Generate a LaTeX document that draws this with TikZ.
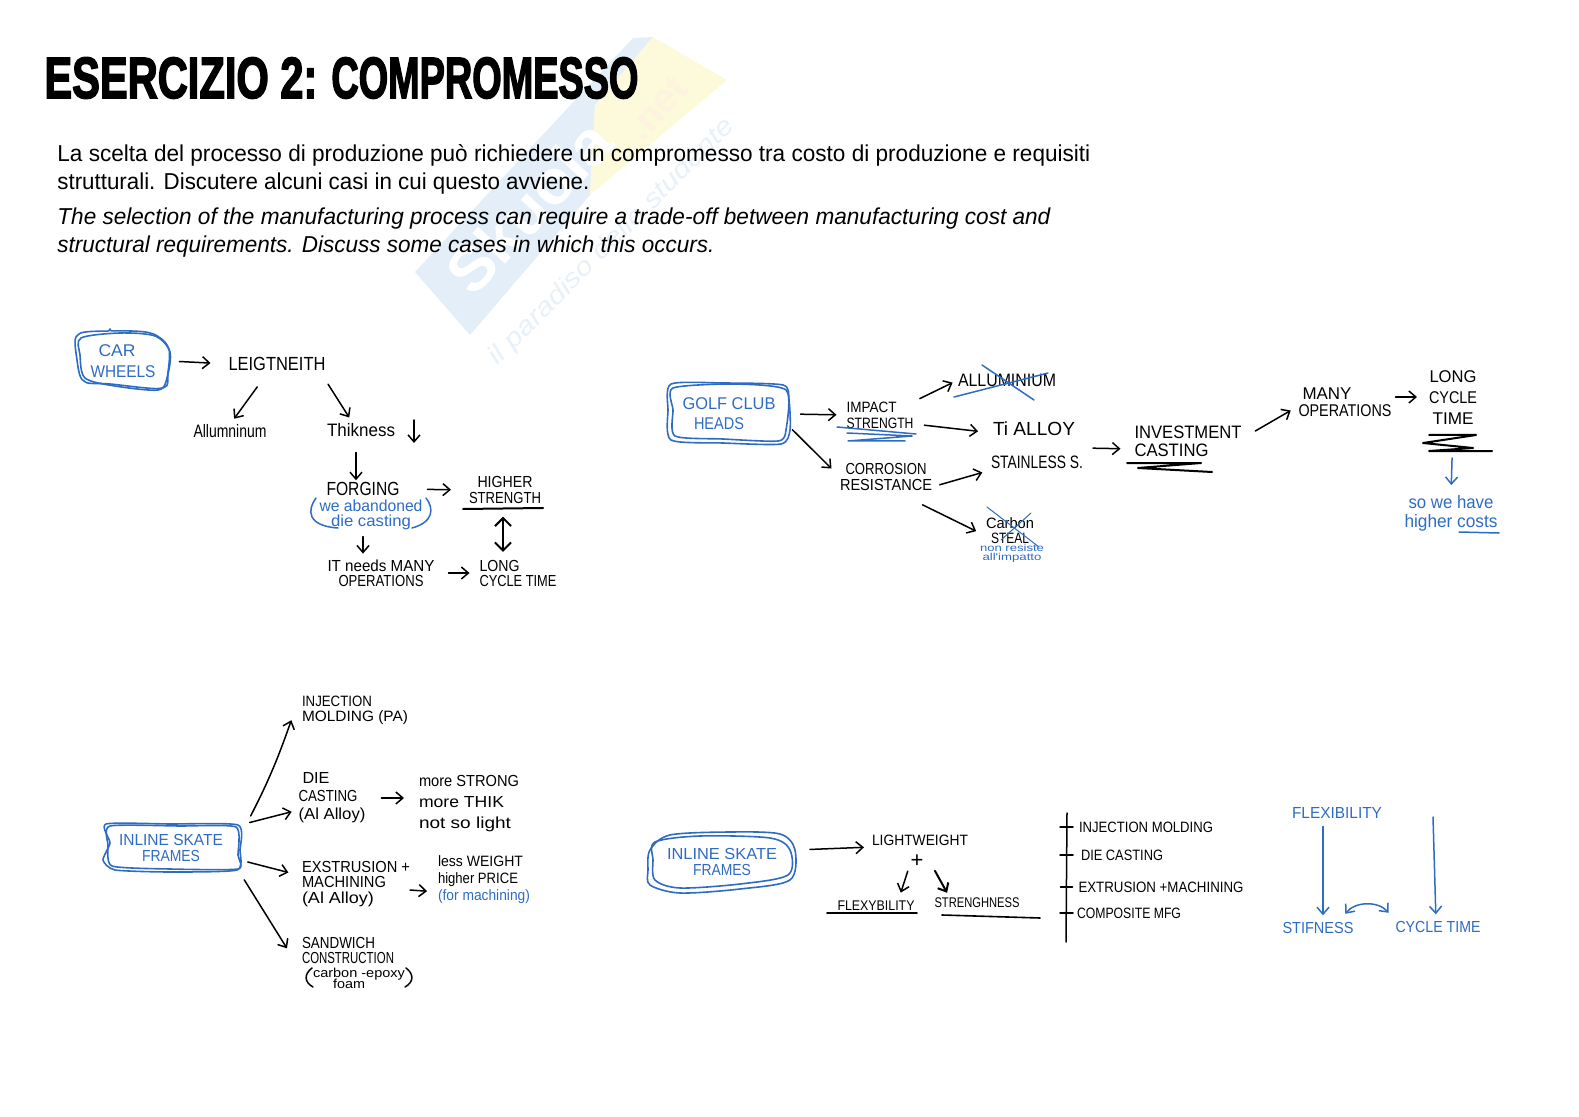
\documentclass[tikz,border=0pt]{standalone}
\usepackage{fontspec}
\usepackage{graphicx}
\usetikzlibrary{arrows.meta}
\setmainfont{Liberation Sans}
\newfontfamily\titlef[BoldFeatures={FakeBold=3}]{Liberation Sans}
\newfontfamily\handf{Liberation Sans}
\newlength\wu \setlength\wu{0.5pt}
\newcommand\wl[2]{\resizebox{#1\wu}{\height}{#2}}
\lineskiplimit=-100pt
\definecolor{hblue}{HTML}{2E6CC4}
\definecolor{wmblue}{HTML}{E3EEF8}
\definecolor{wmyel}{HTML}{FCFADB}
\definecolor{wmtxt}{HTML}{E8F0F8}
\tikzset{
  hand/.style 2 args={font=\handf\fontsize{#1}{#2}\selectfont,align=center,inner sep=0pt,outer sep=0pt,text=black},
  hb/.style 2 args={hand={#1}{#2},text=hblue},
  skbox/.style={inner sep=0pt,outer sep=0pt,align=center,text=hblue,font=\handf\fontsize{8.5}{9}\selectfont},
  arr/.style={draw=black,line width=.75pt,line cap=round,-{Straight Barb[length=3.5pt,width=6pt]}},
  arrb/.style={arr,draw=hblue},
  ink/.style={draw=black,line width=.75pt,line cap=round,line join=round},
  inkb/.style={draw=hblue,line width=.75pt,line cap=round,line join=round},
  skline/.style={draw=hblue,line width=.8pt,line join=round},
}
\begin{document}
\begin{tikzpicture}[x=0.5pt,y=-0.5pt]
\useasboundingbox (0,0) rectangle (1579,1117);
% watermark
\fill[wmblue] (415,272) -- (633,38) -- (653,37) -- (595,105) -- (590,195) -- (470,335) -- cycle;
\fill[wmyel] (653,37) -- (727,80) -- (590,195) -- (595,105) -- cycle;
\node[rotate=47,text=white,font=\fontsize{31}{31}\selectfont\bfseries] (wma) at (529,207) {\wl{210}{Skuola}};
\node[rotate=47,text=wmyel!75!orange!35,font=\fontsize{20}{20}\selectfont\bfseries] (wmb) at (657,108) {\wl{70}{.net}};
\node[rotate=45,text=wmtxt,font=\fontsize{13}{13}\selectfont\itshape] (wmc) at (612,242) {\wl{337}{il paradiso dello studente}};
% title and text
\node[anchor=west,inner sep=0pt,font=\titlef\bfseries\fontsize{29}{29}\selectfont] (title) at (44,78) {\wl{273}{ESERCIZIO 2:}\hspace{7pt}\wl{307}{COMPROMESSO}};
\node[anchor=west,inner sep=0pt,align=left,font=\fontsize{11.5}{14}\selectfont] (ita) at (57,169) {\wl{1033}{La scelta del processo di produzione può richiedere un compromesso tra costo di produzione e requisiti}\\\wl{532}{strutturali. Discutere alcuni casi in cui questo avviene.}};
\node[anchor=west,inner sep=0pt,align=left,font=\itshape\fontsize{11.5}{14}\selectfont] (eng) at (57,233) {\wl{993}{The selection of the manufacturing process can require a trade-off between manufacturing cost and}\\\wl{657}{structural requirements. Discuss some cases in which this occurs.}};

% ---------- panel 1
\node[skbox,minimum width=46.5pt,minimum height=29pt] (car) at (123,361) {\hspace*{-6pt}\wl{37}{CAR}\\[1.5pt]\wl{65}{WHEELS}};
\draw[skline,rounded corners=1pt] plot[smooth cycle,tension=.5] coordinates {(78,335)(110,331)(150,333)(168,347)(168,372)(162,388)(110,384)(84,381)(77,360)};
\draw[skline] plot[smooth cycle,tension=.5] coordinates {(81,338)(120,333)(155,336)(170,352)(167,378)(158,390)(115,386)(85,378)(80,355)};
\node[hand={9.5}{9.5}] (leig) at (277,364) {\wl{97}{LEIGTNEITH}};
\node[hand={9}{9}] (allum) at (230,431) {\wl{73}{Allumninum}};
\node[hand={9}{9}] (thik) at (361,430) {\wl{68}{Thikness}};
\node[hand={9.5}{9.5}] (forg) at (363,489) {\wl{73}{FORGING}};
\node[hb={8}{7.2}] (we) at (371,515) {\wl{103}{we abandoned}\\\wl{80}{die casting}};
\node[hand={8}{8}] (higher) at (505,490) {\wl{55}{HIGHER}\\\wl{72}{STRENGTH}};
\node[hand={8}{7.5}] (ops) at (381,573) {\wl{107}{IT needs MANY}\\\wl{85}{OPERATIONS}};
\node[hand={8}{7.5},align=left] (long) at (518,573) {\wl{40}{LONG}\\\wl{77}{CYCLE TIME}};
\draw[arr,shorten <=5pt,shorten >=9pt] (car.east) -- (leig.west);
\draw[arr,shorten <=10pt,shorten >=3.5pt] ([xshift=-4pt]leig.south) -- (allum.north);
\draw[arr,shorten <=8pt,shorten >=3.5pt] ([xshift=-3pt]leig.south east) -- ([xshift=-4pt]thik.north);
\coordinate (tda) at (414,420); \coordinate (tdb) at (414,443);
\draw[arr] (tda) -- (tdb);
\draw[arr,shorten <=8pt,shorten >=1pt] ([xshift=-2.5pt]thik.south) -- ([xshift=-3.5pt]forg.north);
\draw[arr,shorten <=14pt,shorten >=9pt] (forg.east) -- (higher.west);
\draw[arr,line width=1pt,{Straight Barb[length=4pt,width=8pt]}-{Straight Barb[length=4pt,width=8pt]},shorten <=6.5pt,shorten >=4pt] ([xshift=-1pt]higher.south) -- ([xshift=-7.5pt]long.north);
\draw[arr,shorten <=3.5pt,shorten >=3pt] ([xshift=-4pt]we.south) -- ([xshift=-9pt]ops.north);
\draw[arr,shorten <=7pt,shorten >=5pt] (ops.east) -- (long.west);
\draw[ink,line width=1pt] (463,509) -- (543,508);
\draw[inkb] (316,498) .. controls (307,510) and (307,526) .. (338,528);
\draw[inkb] (426,498) .. controls (434,508) and (434,522) .. (412,528);

% ---------- panel 2
\node[skbox,minimum width=60.5pt,minimum height=31pt] (golf) at (729,414) {\wl{93}{GOLF CLUB}\\[1pt]\hspace*{-10pt}\wl{50}{HEADS}};
\draw[skline] plot[smooth cycle,tension=.4] coordinates {(671,384)(723,383)(783,385)(789,400)(790,430)(781,444)(723,443)(671,440)(668,410)};
\draw[skline] plot[smooth cycle,tension=.4] coordinates {(673,388)(733,384)(786,390)(786,430)(778,441)(723,439)(675,436)(673,410)};
\node[hand={7.5}{8},align=left] (impact) at (880,415) {\wl{50}{IMPACT}\\\wl{67}{STRENGTH}};
\node[hand={8}{8}] (corr) at (886,477) {\wl{81}{CORROSION}\\\wl{92}{RESISTANCE}};
\node[hand={9}{9}] (alum) at (1007,380) {\wl{98}{ALLUMINIUM}};
\node[hand={9.5}{9.5}] (ti) at (1034,429) {\wl{82}{Ti ALLOY}};
\node[hand={9}{9}] (stain) at (1037,462) {\wl{92}{STAINLESS S.}};
\node[hand={9}{9},align=left] (inv) at (1188,441) {\wl{107}{INVESTMENT}\\\wl{74}{CASTING}};
\node[hand={8.5}{8.5},align=left] (many) at (1345,402) {\hspace*{2pt}\wl{49}{MANY}\\\wl{93}{OPERATIONS}};
\node[hand={8.5}{10.5}] (longc) at (1453,398) {\wl{47}{LONG}\\\wl{48}{CYCLE}\\\wl{41}{TIME}};
\node[hb={9}{9.5}] (cost) at (1451,513) {\wl{85}{so we have}\\\wl{93}{higher costs}};
\node[hand={7.5}{7.5}] (carbon) at (1010,531) {\wl{48}{Carbon}\\\wl{38}{STEAL}};
\node[hb={5}{4.5}] (nonres) at (1012,553) {\wl{64}{non resiste}\\\wl{59}{all'impatto}};
\draw[arr,shorten <=5.5pt,shorten >=5pt] (golf.east) -- (impact.west);
\draw[arr,shorten <=2pt,shorten >=6pt] (golf.-12) -- (corr.west);
\draw[arr,shorten <=3.5pt,shorten >=3pt] (impact.north east) -- (alum.west);
\draw[arr,shorten <=5.5pt,shorten >=7.5pt] (impact.-15) -- ([yshift=-2pt]ti.west);
\draw[arr,shorten <=4pt,shorten >=4.5pt] ([yshift=-5pt]corr.east) -- ([yshift=-4pt]stain.west);
\draw[arr,shorten <=7pt,shorten >=5.5pt] ([xshift=12pt,yshift=-4pt]corr.south) -- ([yshift=-2.5pt]carbon.west);
\draw[arr,shorten <=5pt,shorten >=7pt] ([yshift=7pt]stain.east) -- ([yshift=-4pt]inv.west);
\draw[arr,shorten <=8pt,shorten >=4.5pt] ([yshift=1pt]inv.east) -- ([yshift=-2pt]many.west);
\draw[arr,shorten <=2pt,shorten >=6pt] ([yshift=2.5pt]many.east) -- ([yshift=.5pt]longc.west);
\draw[arrb,shorten <=16.5pt,shorten >=5pt] (longc.south) -- (cost.north);
\draw[inkb] (837,427) -- (916,434); \draw[inkb] (847,433) -- (912,436) -- (848,441) -- (905,441);
\draw[inkb] (982,365) -- (1034,400); \draw[inkb] (954,397) -- (1048,373);
\draw[inkb,line width=.5pt] (987,507) -- (1039,547); \draw[inkb,line width=.5pt] (1031,513) -- (1001,540);
\draw[ink,line width=1pt] (1127,463) -- (1201,463) -- (1138,468) -- (1212,472);
\draw[ink,line width=1pt] (1429,435) -- (1476,435) -- (1423,443) -- (1473,448) -- (1429,451) -- (1492,451);
\draw[inkb] (1459,532) -- (1499,533);

% ---------- panel 3
\node[skbox,minimum width=69pt,minimum height=25pt,font=\handf\fontsize{8}{8}\selectfont] (ska) at (171,848) {\wl{104}{INLINE SKATE}\\\wl{58}{FRAMES}};
\draw[skline] plot[smooth cycle,tension=.35] coordinates {(106,824)(170,824)(238,825)(240,850)(237,870)(170,872)(115,870)(103,860)(110,843)};
\draw[skline] plot[smooth cycle,tension=.35] coordinates {(110,826)(180,826)(236,827)(238,855)(238,869)(170,869)(112,866)(108,845)};
\node[hand={7.5}{7.5},align=left] (inj) at (355,710) {\wl{70}{INJECTION}\\\wl{106}{MOLDING (PA)}};
\node[hand={8}{9},align=left] (die) at (332,798) {\hspace*{2pt}\wl{27}{DIE}\\\wl{59}{CASTING}\\\wl{67}{(Al Alloy)}};
\node[hand={8}{10.5},align=left] (more) at (469,804) {\wl{100}{more STRONG}\\\wl{85}{more THIK}\\\wl{92}{not so light}};
\node[hand={8}{7.8},align=left] (ext) at (356,884) {\wl{108}{EXSTRUSION +}\\\wl{84}{MACHINING}\\\wl{72}{(Al Alloy)}};
\node[hand={7.5}{8.5},align=left] (less) at (484,880) {\wl{85}{less WEIGHT}\\\wl{80}{higher PRICE}\\{\color{hblue}\wl{92}{(for machining)}}};
\node[hand={8}{7.5},align=left] (sand) at (348,950) {\wl{73}{SANDWICH}\\\wl{92}{CONSTRUCTION}};
\node[hand={6.5}{5.5}] (foam) at (359,978) {\wl{92}{carbon -epoxy}\\\hspace*{-10pt}\wl{32}{foam}};
\draw[arr,shorten <=4pt,shorten >=1pt] ([xshift=3.5pt]ska.north east) to[bend right=4] ([xshift=-5pt,yshift=3pt]inj.south west);
\draw[arr,shorten <=5pt,shorten >=3.5pt] ([yshift=-1pt]ska.north east) -- ([yshift=-6pt]die.west);
\draw[arr,shorten <=4pt,shorten >=7pt] ([yshift=-6pt]ska.east) -- ([yshift=4pt]ext.west);
\draw[arr,shorten <=4pt,shorten >=1pt] (ska.south east) -- ([xshift=-7pt]sand.west);
\draw[arr,shorten <=8pt,shorten >=7.5pt] (die.east) -- ([yshift=3pt]more.west);
\draw[arr,shorten >=5.5pt] ([yshift=-3pt]ext.east) -- ([yshift=-6pt]less.west);
\draw[ink] (312,968) .. controls (304,974) and (304,982) .. (313,987);
\draw[ink] (406,968) .. controls (414,974) and (414,982) .. (405,987);

% ---------- panel 4
\node[skbox,minimum width=74pt,minimum height=30.5pt,font=\handf\fontsize{8}{8}\selectfont] (skb) at (722,862) {\wl{110}{INLINE SKATE}\\\wl{58}{FRAMES}};
\draw[skline] plot[smooth cycle,tension=.5] coordinates {(650,850)(670,835)(730,832)(780,834)(795,850)(790,880)(740,889)(680,893)(650,885)(648,870)};
\draw[skline] plot[smooth cycle,tension=.5] coordinates {(655,842)(700,836)(770,838)(790,850)(788,875)(740,884)(680,888)(655,880)(653,860)};
\node[hand={7.5}{7.5}] (light) at (920,840) {\wl{96}{LIGHTWEIGHT}};
\node[hand={11}{11}] (plus) at (917,861) {+};
\node[hand={7}{7}] (flex) at (876,906) {\wl{77}{FLEXYBILITY}};
\node[hand={7}{7}] (str) at (977,903) {\wl{85}{STRENGHNESS}};
\node[hand={7.5}{7.5}] (ila) at (1146,827) {\wl{134}{INJECTION MOLDING}};
\node[hand={7.5}{7.5}] (ilb) at (1122,855) {\wl{82}{DIE CASTING}};
\node[hand={7.5}{7.5}] (ilc) at (1161,887) {\wl{165}{EXTRUSION +MACHINING}};
\node[hand={7.5}{7.5}] (ild) at (1129,913) {\wl{104}{COMPOSITE MFG}};
\node[hb={8}{8}] (flexb) at (1337,813) {\wl{90}{FLEXIBILITY}};
\node[hb={8}{8}] (stif) at (1318,928) {\wl{71}{STIFNESS}};
\node[hb={8}{8}] (cyc) at (1438,927) {\wl{85}{CYCLE TIME}};
\coordinate (vta) at (1067,813); \coordinate (vtb) at (1066,942); \coordinate (cyt) at (1433,817);
\draw[arr,shorten <=7pt,shorten >=4pt] ([yshift=6pt]skb.east) -- ([yshift=-3.5pt]light.west);
\draw[arr,shorten <=2pt,shorten >=4.5pt] ([xshift=-4pt]plus.south) -- ([xshift=11pt]flex.north);
\draw[arr,line width=1pt,shorten <=2pt,shorten >=3pt] ([xshift=8pt]plus.south) -- ([xshift=-13.5pt]str.north);
\draw[ink,line width=.8pt] (827,913) -- (917,913);
\draw[ink,line width=.8pt] (942,915) -- (1040,918);
\draw[ink] (vta) -- (vtb);
\draw[ink] ([xshift=-9.5pt]ila.west) -- ([xshift=-3pt]ila.west);
\draw[ink] ([xshift=-10.5pt]ilb.west) -- ([xshift=-4pt]ilb.west);
\draw[ink] ([xshift=-9pt]ilc.west) -- ([xshift=-3pt]ilc.west);
\draw[ink] ([xshift=-8.5pt]ild.west) -- ([xshift=-2pt]ild.west);
\draw[arrb,shorten <=4pt,shorten >=3.5pt] ([xshift=-7pt]flexb.south) -- ([xshift=2.5pt]stif.north);
\draw[arrb,shorten >=3.5pt] (cyt) -- ([xshift=-1pt]cyc.north);
\draw[arrb,{Straight Barb[length=3.5pt,width=6pt]}-{Straight Barb[length=3.5pt,width=6pt]},shorten <=1pt,shorten >=1pt] ([xshift=13pt,yshift=3.5pt]stif.north) to[bend left=50] ([xshift=-24pt,yshift=3.5pt]cyc.north);
\end{tikzpicture}
\end{document}
